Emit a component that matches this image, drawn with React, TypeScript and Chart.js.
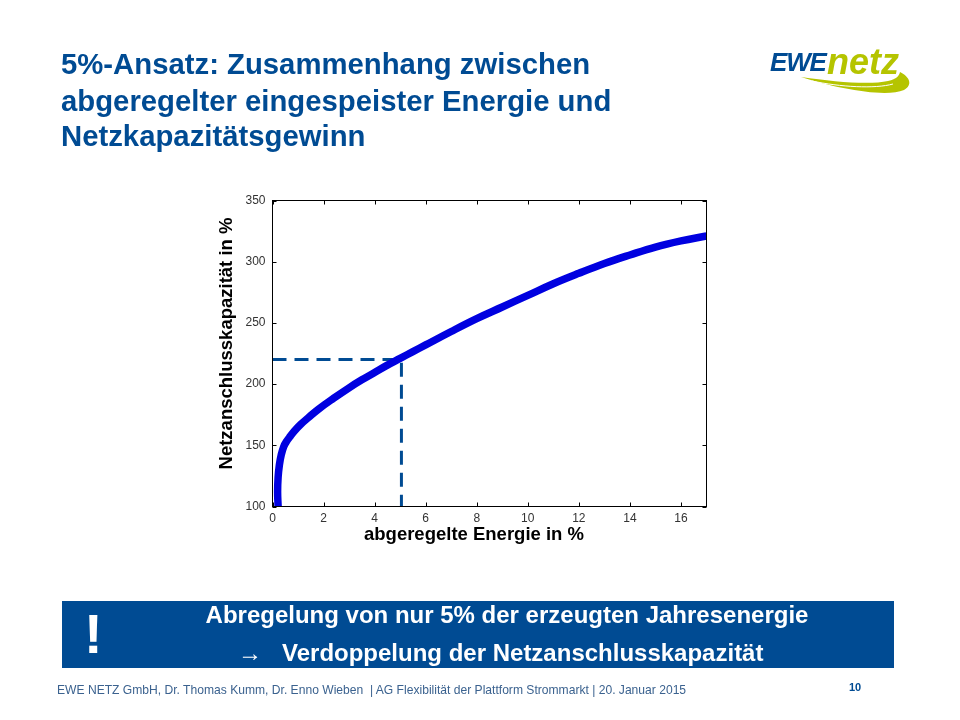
import React, { useEffect, useRef } from "react";
import { Chart, registerables } from "chart.js";

Chart.register(...registerables);

const energy = [0.22, 0.2, 0.22, 0.27, 0.34, 0.44, 0.56, 0.7, 0.85, 1.1, 1.4, 1.8, 2.4, 3, 3.5, 4, 4.5, 5, 5.5, 6, 7, 8, 9, 10, 11, 12, 13, 14, 15, 16, 17];
const capacity = [100, 112, 124, 134, 142, 149, 153.5, 157.5, 161.5, 167, 172.5, 179.5, 188.5, 197, 203.5, 209.5, 215.5, 221, 226.5, 232, 243, 253.5, 263, 272.5, 282, 290.5, 298.5, 305.5, 312, 317, 321];
const guideX = [0, 5.05, 5.05];
const guideY = [220, 220, 100];
const xTitle = "abgeregelte Energie in %";
const yTitle = "Netzanschlusskapazität in %";
const titleLines = ["5%-Ansatz: Zusammenhang zwischen", "abgeregelter eingespeister Energie und", "Netzkapazitätsgewinn"];
const boxLines = ["Abregelung von nur 5% der erzeugten Jahresenergie", "→   Verdoppelung der Netzanschlusskapazität"];
const footer = "EWE NETZ GmbH, Dr. Thomas Kumm, Dr. Enno Wieben  | AG Flexibilität der Plattform Strommarkt | 20. Januar 2015";

const BLUE = "#004b93";
const LIME = "#b5c400";
const SANS = '"Liberation Sans", Arial, sans-serif';

const framePlugin = {
  id: "frame",
  afterDraw(chart: any) {
    const { ctx, chartArea: a, scales } = chart;
    ctx.save();
    ctx.strokeStyle = "#000";
    ctx.lineWidth = 1;
    ctx.strokeRect(a.left, a.top, a.right - a.left, a.bottom - a.top);
    ctx.beginPath();
    for (const t of scales.x.ticks) {
      const p = Math.round(scales.x.getPixelForValue(t.value)) + 0.5;
      ctx.moveTo(p, a.bottom); ctx.lineTo(p, a.bottom - 4);
      ctx.moveTo(p, a.top); ctx.lineTo(p, a.top + 4);
    }
    for (const t of scales.y.ticks) {
      const p = Math.round(scales.y.getPixelForValue(t.value)) + 0.5;
      ctx.moveTo(a.left, p); ctx.lineTo(a.left + 4, p);
      ctx.moveTo(a.right, p); ctx.lineTo(a.right - 4, p);
    }
    ctx.stroke();
    ctx.fillStyle = "#000";
    ctx.font = `bold 18.5px ${SANS}`;
    ctx.textAlign = "center";
    ctx.textBaseline = "middle";
    ctx.fillText(xTitle, 474, 535);
    ctx.translate(227, 343.5);
    ctx.rotate(-Math.PI / 2);
    ctx.fillText(yTitle, 0, 0);
    ctx.restore();
  },
};

export default function App() {
  const ref = useRef<HTMLCanvasElement>(null);
  useEffect(() => {
    const chart = new Chart(ref.current!, {
      type: "scatter",
      data: {
        datasets: [
          {
            label: "Kurve",
            data: energy.map((x, i) => ({ x, y: capacity[i] })),
            showLine: true,
            borderColor: "#0000e0",
            borderWidth: 7.5,
            pointRadius: 0,
            tension: 0.4,
            order: 1,
          },
          {
            label: "5%",
            data: guideX.map((x, i) => ({ x, y: guideY[i] })),
            showLine: true,
            borderColor: BLUE,
            borderWidth: 3,
            borderDash: [14, 8],
            pointRadius: 0,
            order: 2,
          },
        ],
      },
      options: {
        animation: false,
        responsive: false,
        devicePixelRatio: 1,
        layout: { padding: { left: 232.5, right: 253.5, top: 200.5, bottom: 183.5 } },
        plugins: { legend: { display: false }, tooltip: { enabled: false } },
        scales: {
          x: {
            type: "linear",
            min: 0,
            max: 17,
            afterFit: (s: any) => { s.height = 30; },
            grid: { display: false, drawTicks: false },
            border: { display: false },
            ticks: { stepSize: 2, includeBounds: false, maxRotation: 0, padding: 5, color: "#333", font: { family: SANS, size: 12 } },
          },
          y: {
            type: "linear",
            min: 100,
            max: 350,
            afterFit: (s: any) => { s.width = 40; },
            grid: { display: false, drawTicks: false },
            border: { display: false },
            ticks: { stepSize: 50, padding: 7, color: "#333", font: { family: SANS, size: 12 } },
          },
        },
      },
      plugins: [framePlugin],
    } as any);
    return () => chart.destroy();
  }, []);

  const abs = (o: React.CSSProperties): React.CSSProperties => ({ position: "absolute", whiteSpace: "pre", fontFamily: SANS, ...o });

  return (
    <div style={{ position: "absolute", left: 0, top: 0, width: 960, height: 720, background: "#fff", overflow: "hidden" }}>
      <canvas ref={ref} width={960} height={720} style={{ position: "absolute", left: 0, top: 0, width: 960, height: 720 }} />
      {titleLines.map((t, i) => (
        <div key={t} style={abs({ left: 61, top: [49, 86, 121][i], fontSize: 29.3, lineHeight: "30px", fontWeight: "bold", color: BLUE })}>{t}</div>
      ))}
      <div style={abs({ left: 770, top: 45, fontSize: 26, lineHeight: "34px", fontWeight: "bold", fontStyle: "italic", color: BLUE, letterSpacing: -1.2 })}>EWE</div>
      <div style={abs({ left: 827, top: 40, fontSize: 36, lineHeight: "44px", fontWeight: "bold", fontStyle: "italic", color: LIME })}>netz</div>
      <svg width={960} height={720} style={{ position: "absolute", left: 0, top: 0 }}>
        <path d="M801 77 C835 82 870 85 888 81 C897 79 899 76 900 72 C910 77 913 85 904 90 C885 98 835 88 801 77 Z" fill={LIME} />
        <path d="M812 81 C840 87 875 89 893 84" fill="none" stroke="#fff" strokeWidth={1} />
      </svg>
      <div style={{ position: "absolute", left: 62, top: 601, width: 832, height: 67, background: BLUE }} />
      <div style={abs({ left: 84, top: 604, fontSize: 56, lineHeight: "60px", fontWeight: "bold", color: "#fff" })}>!</div>
      <div style={abs({ left: 62, width: 890, textAlign: "center", top: 603, fontSize: 24, lineHeight: "24px", fontWeight: "bold", color: "#fff" })}>{boxLines[0]}</div>
      <div style={abs({ left: 238, top: 641, fontSize: 24, lineHeight: "24px", fontWeight: "bold", color: "#fff" })}>{boxLines[1]}</div>
      <div style={abs({ left: 57, top: 683, fontSize: 12.1, lineHeight: "14px", color: "#3b628f" })}>{footer}</div>
      <div style={abs({ left: 849, top: 680, fontSize: 11, lineHeight: "14px", fontWeight: "bold", color: BLUE })}>10</div>
    </div>
  );
}
